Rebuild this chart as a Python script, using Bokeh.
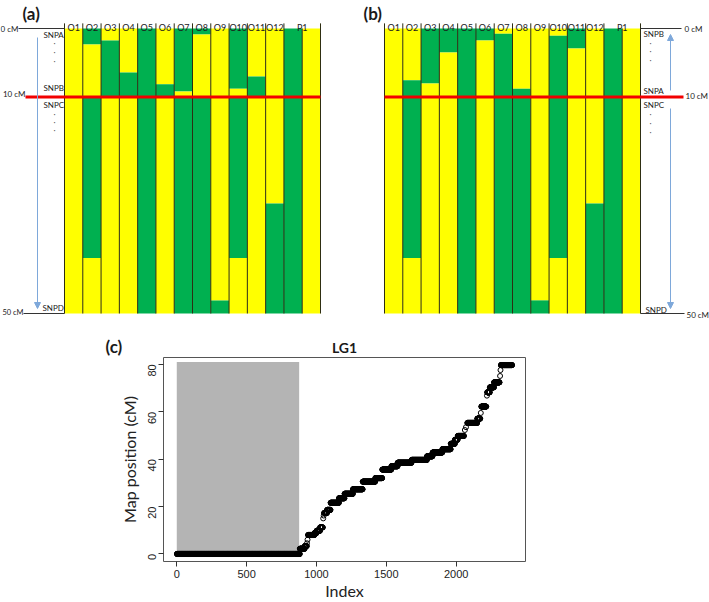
import math
from bokeh.plotting import figure
from bokeh.models import Range1d, Label, Arrow, NormalHead, FixedTicker
from bokeh.layouts import column, row
from bokeh.embed import file_html
from bokeh.resources import INLINE

# ---------------- data: panels (a) and (b) ----------------
# 14 columns: O1..O12, then two P1 columns. Positions in % of the column height (0 = top, 100 = bottom)
col_labels = ["O1", "O2", "O3", "O4", "O5", "O6", "O7", "O8", "O9", "O10", "O11", "O12", "P1"]
col_label_pos = [0.5, 1.5, 2.5, 3.5, 4.5, 5.5, 6.5, 7.5, 8.5, 9.5, 10.5, 11.5, 13.0]
# column borders that get a small separator tick between the labels (the two P1 columns share one label)
border_has_tick = [1, 1, 1, 1, 1, 1, 1, 1, 1, 1, 1, 1, 1, 0, 1]

a_bounds = [
    [0, 100],
    [0, 5.6, 24, 80.5, 100],
    [0, 4.2, 24, 100],
    [0, 15.4, 24, 100],
    [0, 100],
    [0, 19.6, 24, 100],
    [0, 22.1, 24, 100],
    [0, 2.1, 24, 100],
    [0, 95.4, 100],
    [0, 21.1, 24, 80.5, 100],
    [0, 16.8, 24, 100],
    [0, 61.4, 100],
    [0, 100],
    [0, 100],
]
a_colors = ["Y", "GYGY", "YGY", "YGY", "G", "YGY", "GYG", "GYG", "YG", "GYGY", "YGY", "YG", "G", "Y"]

b_bounds = [
    [0, 100],
    [0, 18.2, 80.5, 100],
    [0, 19.3, 100],
    [0, 8.4, 100],
    [0, 100],
    [0, 4.2, 100],
    [0, 1.8, 100],
    [0, 21.1, 100],
    [0, 95.4, 100],
    [0, 2.5, 80.5, 100],
    [0, 7.0, 100],
    [0, 61.4, 100],
    [0, 100],
    [0, 100],
]
b_colors = ["Y", "YGY", "GY", "GY", "G", "GY", "YG", "YG", "YG", "YGY", "GY", "YG", "G", "Y"]

red_line_pos = 24  # the 10 cM boundary, % of height

# ---------------- data: panel (c) ----------------
step_start = [1, 881, 916, 940, 986, 1001, 1026, 1055, 1076, 1101, 1161, 1201, 1261, 1331, 1421,
              1471, 1536, 1581, 1681, 1791, 1831, 1901, 1961, 1991, 2011, 2080, 2151, 2180, 2222,
              2241, 2271, 2320]
step_end = [880, 915, 930, 985, 1000, 1025, 1045, 1075, 1100, 1160, 1200, 1260, 1330, 1420, 1470,
            1535, 1580, 1680, 1790, 1830, 1900, 1960, 1990, 2010, 2055, 2150, 2172, 2215, 2240,
            2270, 2310, 2400]
step_value = [0, 2.2, 3.3, 8.0, 8.8, 9.8, 11.2, 17.3, 18.6, 21.6, 23.5, 25.4, 27.3, 30.5, 32.0,
              35.6, 37.0, 38.5, 39.7, 41.2, 42.8, 44.2, 46.5, 48.2, 49.8, 55.3, 57.1, 62.2, 68.2,
              70.3, 72.4, 79.7]
single_idx = [932, 936, 1048, 1052, 2062, 2070, 2176, 2220, 2314, 2317]
single_val = [4.5, 6.0, 15.0, 16.2, 52.3, 53.5, 59.5, 66.8, 75.1, 77.6]
shade_x = [0, 876]
shade_y = [0, 81]
x_ticks = [0, 500, 1000, 1500, 2000]
y_ticks = [0, 20, 40, 60, 80]

# ---------------- styles ----------------
YELLOW = "#FFFF00"
GREEN = "#00B050"
RED = "#F20000"
BLUE = "#7EA8DA"
FONT = "Lato"
W = 256 / 14.0      # px per column
PXY = 2.85          # px per % of height
TOP_H = 356
SPLIT = 360


def panel(bounds, colors, page_col_left, fig_left, fig_right):
    width = fig_right - fig_left
    p = figure(width=width, height=TOP_H,
               x_range=Range1d((fig_left - page_col_left) / W, (fig_right - page_col_left) / W),
               y_range=Range1d((TOP_H - 28) / PXY, (0 - 28) / PXY),
               output_backend="svg", toolbar_location=None, min_border=0,
               x_axis_location=None, y_axis_location=None, outline_line_color=None)
    p.grid.visible = False
    L, R, T, B, C = [], [], [], [], []
    for i, (bd, cs) in enumerate(zip(bounds, colors)):
        for j, c in enumerate(cs):
            L.append(i); R.append(i + 1); T.append(bd[j]); B.append(bd[j + 1])
            C.append(YELLOW if c == "Y" else GREEN)
    p.quad(left=L, right=R, top=T, bottom=B, fill_color=C, line_color=None)
    n = len(bounds)
    p.segment(x0=list(range(n + 1)), y0=[-1.8 if t else 0 for t in border_has_tick],
              x1=list(range(n + 1)), y1=[100] * (n + 1),
              line_color="#2e2e12", line_width=1)
    for lab, xp in zip(col_labels, col_label_pos):
        p.add_layout(Label(x=xp, y=-0.5, text=lab, text_align="center", text_baseline="alphabetic",
                           text_font=FONT, text_font_size="9px", text_color="#1a1a1a"))

    def X(px):
        return (px - page_col_left) / W

    def Y(py):
        return (py - 28) / PXY

    return p, X, Y


def txt(p, text, x, y, align="left", size="8px", bold=False, font=FONT, color="#1a1a1a"):
    p.add_layout(Label(x=x, y=y, text=text, text_align=align, text_baseline="middle",
                       text_font=font, text_font_size=size, text_color=color,
                       text_font_style="bold" if bold else "normal"))


# ---------------- panel (a) ----------------
pa, X, Y = panel(a_bounds, a_colors, 64, 0, SPLIT)
pa.segment(x0=[X(18), X(23)], y0=[0, 100], x1=[0, 0], y1=[0, 100], line_color="#333333", line_width=1)
pa.segment(x0=[X(25)], y0=[red_line_pos], x1=[14], y1=[red_line_pos], line_color=RED, line_width=3)
pa.add_layout(Arrow(end=NormalHead(size=6, fill_color=BLUE, line_color=BLUE),
                    x_start=X(37), y_start=Y(37), x_end=X(37), y_end=Y(308),
                    line_color=BLUE, line_width=1))
txt(pa, "(a)", X(22), Y(13), size="17px", bold=True)
txt(pa, "0 cM", X(18), Y(28), align="right", size="8px")
txt(pa, "10 cM", X(25), Y(93), align="right", size="8px")
txt(pa, "50 cM", X(23), Y(312), align="right", size="7.5px")
txt(pa, "SNPA", X(43), Y(34))
txt(pa, "SNPB", X(43), Y(87))
txt(pa, "SNPC", X(43), Y(104))
txt(pa, "SNPD", X(42), Y(307))
for yy in [42, 51, 60, 113, 121, 129]:
    txt(pa, "\u00b7", X(54), Y(yy), align="center", size="8px", color="#555555")
# labels of panel (c) that sit above its plotting box
txt(pa, "(c)", X(105), Y(346), size="17px", bold=True)
txt(pa, "LG1", X(344), Y(347), align="center", size="14px", bold=True)

# ---------------- panel (b) ----------------
pb, X, Y = panel(b_bounds, b_colors, 384, SPLIT, 709)
pb.segment(x0=[14, 14], y0=[0, 100], x1=[X(681), X(684)], y1=[0, 100], line_color="#333333", line_width=1)
pb.segment(x0=[0], y0=[red_line_pos], x1=[X(683)], y1=[red_line_pos], line_color=RED, line_width=3)
pb.add_layout(Arrow(end=NormalHead(size=6, fill_color=BLUE, line_color=BLUE),
                    x_start=X(670), y_start=Y(90), x_end=X(670), y_end=Y(34),
                    line_color=BLUE, line_width=1))
pb.add_layout(Arrow(end=NormalHead(size=6, fill_color=BLUE, line_color=BLUE),
                    x_start=X(670), y_start=Y(108), x_end=X(670), y_end=Y(308),
                    line_color=BLUE, line_width=1))
txt(pb, "(b)", X(363), Y(13), size="17px", bold=True)
txt(pb, "0 cM", X(684), Y(28))
txt(pb, "10 cM", X(685), Y(95))
txt(pb, "50 cM", X(686), Y(314))
txt(pb, "SNPB", X(643), Y(33))
txt(pb, "SNPA", X(643), Y(90))
txt(pb, "SNPC", X(643), Y(104))
txt(pb, "SNPD", X(645), Y(309))
for yy in [42, 50, 59, 113, 122, 131]:
    txt(pb, "\u00b7", X(650), Y(yy), align="center", size="8px", color="#555555")

# ---------------- panel (c) ----------------
idx, val = [], []
for s, e, v in zip(step_start, step_end, step_value):
    for k in range(s, e + 1):
        idx.append(k)
        val.append(v)
idx += single_idx
val += single_val

pc = figure(width=709, height=602 - TOP_H, x_range=Range1d(-95, 2496), y_range=Range1d(-3.19, 82.9),
            output_backend="svg", toolbar_location=None,
            min_border_left=163, min_border_right=184, min_border_top=1, min_border_bottom=39)
pc.grid.visible = False
pc.outline_line_color = "#555555"
pc.quad(left=[shade_x[0]], right=[shade_x[1]], bottom=[shade_y[0]], top=[shade_y[1]],
        fill_color="#b4b4b4", line_color=None)
pc.scatter(x=idx, y=val, marker="circle", size=5, fill_color=None, line_color="black", line_width=1)
pc.xaxis.ticker = FixedTicker(ticks=x_ticks)
pc.yaxis.ticker = FixedTicker(ticks=y_ticks)
pc.axis.axis_line_color = None
pc.axis.major_tick_out = 5
pc.axis.major_tick_in = 0
pc.axis.major_tick_line_color = "#333333"
pc.axis.minor_tick_line_color = None
pc.axis.major_label_text_font = "Liberation Sans"
pc.axis.major_label_text_font_size = "11px"
pc.axis.major_label_text_color = "#222222"
pc.xaxis.major_label_standoff = 3
pc.yaxis.major_label_standoff = 6
pc.yaxis.major_label_orientation = math.pi / 2
pc.xaxis.axis_label = "Index"
pc.yaxis.axis_label = "Map position (cM)"
pc.axis.axis_label_text_font = FONT
pc.axis.axis_label_text_font_style = "normal"
pc.axis.axis_label_text_font_size = "16px"
pc.axis.axis_label_text_color = "#222222"
pc.xaxis.axis_label_standoff = 0
pc.yaxis.axis_label_standoff = 3

layout = column(row(pa, pb), pc)
open("out.html", "w").write(file_html(layout, INLINE))
